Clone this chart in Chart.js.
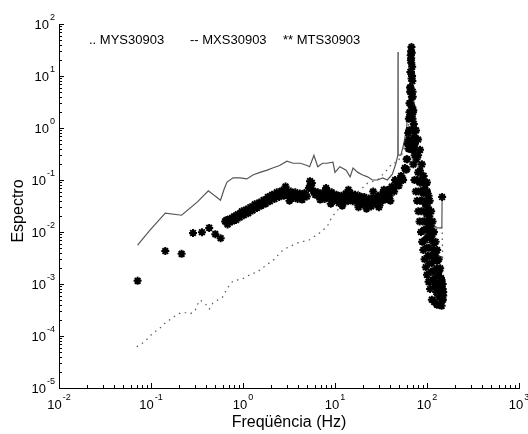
<!DOCTYPE html>
<html>
<head>
<meta charset="utf-8">
<script src="https://cdn.jsdelivr.net/npm/chart.js@4.4.1/dist/chart.umd.min.js"></script>
<style>
  body { margin: 0; background: #fff; }
  #wrap { width: 528px; height: 434px; }
</style>
</head>
<body>
<div id="wrap"><canvas id="chart" width="528" height="434"></canvas></div>
<script>
// tick labels (powers of ten)
const xTickExp = [-2, -1, 0, 1, 2, 3];
const yTickExp = [-5, -4, -3, -2, -1, 0, 1, 2];
const legendNames = ['.. MYS30903', '-- MXS30903', '** MTS30903'];

// MYS30903 (dotted)
const mysFreq = [0.07, 0.082, 0.093, 0.105, 0.122, 0.138, 0.157, 0.18, 0.21, 0.24, 0.27, 0.30, 0.32, 0.34, 0.385, 0.43, 0.47, 0.53, 0.6, 0.64, 0.7, 0.78, 0.88, 0.99, 1.1, 1.28, 1.45, 1.56, 1.73, 2.2, 2.6, 3.1, 3.96, 5.3, 6.8, 8.2, 9.2, 11.3, 15.7, 17.7, 20, 22.6, 29, 36.6, 42, 48, 55, 62, 66, 70, 80, 100, 120, 146, 147, 148];
const mysVals = [6.2e-5, 7.4e-5, 9e-5, 1.15e-4, 1.35e-4, 1.7e-4, 2e-4, 2.4e-4, 2.8e-4, 2.8e-4, 2.7e-4, 3e-4, 4e-4, 4.9e-4, 4.3e-4, 3.3e-4, 4.3e-4, 4.9e-4, 5.6e-4, 7e-4, 9e-4, 1.15e-3, 1.2e-3, 1.25e-3, 1.4e-3, 1.6e-3, 1.7e-3, 1.95e-3, 2.2e-3, 3e-3, 4.2e-3, 5.1e-3, 6.2e-3, 7.1e-3, 9.6e-3, 0.0126, 0.019, 0.03, 0.036, 0.059, 0.071, 0.087, 0.1, 0.155, 0.21, 0.22, 0.35, 0.8, 3, 1, 0.1, 0.02, 0.013, 0.012, 0.006, 0.0028];

// MXS30903 (solid)
const mxsFreq = [0.0715, 0.098, 0.143, 0.215, 0.32, 0.42, 0.57, 0.62, 0.67, 0.78, 0.93, 1.1, 1.28, 1.53, 1.83, 2.1, 2.5, 3.0, 3.5, 4.2, 4.97, 5.3, 5.9, 6.5, 7.3, 8.2, 9.5, 10, 11.3, 13.2, 14.6, 15.7, 17.7, 20, 22.6, 25.5, 29, 33, 37, 42, 46, 48.2, 48.4, 48.6, 52, 56, 60, 65, 68, 70, 75, 80, 88, 95, 99, 100, 101, 120, 145, 146];
const mxsVals = [0.0056, 0.011, 0.023, 0.021, 0.038, 0.062, 0.041, 0.065, 0.091, 0.11, 0.11, 0.105, 0.125, 0.14, 0.155, 0.17, 0.19, 0.23, 0.21, 0.21, 0.19, 0.18, 0.30, 0.18, 0.21, 0.21, 0.22, 0.14, 0.18, 0.155, 0.115, 0.17, 0.14, 0.125, 0.115, 0.10, 0.10, 0.11, 0.10, 0.13, 0.21, 0.3, 29, 0.3, 0.3, 0.5, 1, 5, 20, 8, 1, 0.2, 0.04, 0.015, 0.012, 0.09, 0.012, 0.012, 0.012, 0.047];

// MTS30903 (stars): isolated points
const mtsLowFreq = [0.0715, 0.143, 0.215, 0.286, 0.358, 0.429, 0.5, 0.572, 100, 100, 146];
const mtsLowVals = [0.00115, 0.0043, 0.0038, 0.0096, 0.0099, 0.012, 0.0091, 0.0076, 0.09, 0.06, 0.047];

// MTS30903: the dense band 0.6 - 60 Hz
const mtsBandFreq = [
  0.64, 0.68, 0.72, 0.76, 0.8, 0.84, 0.88, 0.92, 0.97, 1.02, 1.08, 1.14, 1.2, 1.27, 1.34, 1.42, 1.5, 1.58, 1.67, 1.76, 1.86, 1.96,
  2.07, 2.2, 2.33, 2.47, 2.62, 2.78, 2.95, 3.12, 3.3, 3.5, 3.7, 3.92, 4.15, 4.4, 4.66, 4.94, 5.2, 5.5, 5.8, 6.1, 6.5, 6.9,
  7.3, 7.7, 8.2, 8.7, 9.2, 9.8, 10.4, 11, 11.7, 12.4, 13.1, 13.9, 14.7, 15.6, 16.5, 17.5, 18.5, 19.6, 20.8, 22, 23.3, 24.7,
  26.2, 27.8, 29.4, 31.2, 33, 35, 37, 39.2, 41.5, 44, 46.6, 49.4, 52.3, 55, 57.5, 60,
  0.66, 0.74, 0.82, 0.9, 0.995, 1.11, 1.235, 1.38, 1.54, 1.715, 1.91, 2.135, 2.4, 2.7, 3.03, 3.4, 3.81, 4.27, 4.8, 5.35,
  5.95, 6.7, 7.5, 8.45, 9.5, 10.7, 12, 13.5, 15.1, 17, 19, 21.4, 24, 27, 30.3, 34, 38, 42.7, 48, 53.6, 58.7,
  2.9, 3.2, 5.35, 5.6, 8, 9, 12, 14, 18, 22, 26, 30, 34, 40, 45];
const mtsBandVals = [
  0.016, 0.014, 0.018, 0.016, 0.02, 0.017, 0.022, 0.019, 0.025, 0.021, 0.027, 0.023, 0.03, 0.026, 0.034, 0.029, 0.037, 0.032, 0.041, 0.035, 0.047, 0.039,
  0.052, 0.043, 0.058, 0.047, 0.062, 0.05, 0.065, 0.05, 0.06, 0.045, 0.058, 0.043, 0.055, 0.042, 0.056, 0.048, 0.07, 0.078, 0.062, 0.052, 0.058, 0.042,
  0.056, 0.043, 0.062, 0.045, 0.058, 0.04, 0.052, 0.036, 0.05, 0.038, 0.055, 0.04, 0.056, 0.039, 0.052, 0.036, 0.049, 0.034, 0.047, 0.032, 0.044, 0.031,
  0.046, 0.034, 0.05, 0.036, 0.055, 0.042, 0.064, 0.05, 0.075, 0.06, 0.092, 0.078, 0.12, 0.1, 0.17, 0.16,
  0.017, 0.017, 0.019, 0.021, 0.023, 0.025, 0.028, 0.031, 0.034, 0.038, 0.043, 0.048, 0.052, 0.056, 0.057, 0.052, 0.05, 0.048, 0.052, 0.074,
  0.058, 0.05, 0.049, 0.053, 0.049, 0.044, 0.043, 0.047, 0.047, 0.044, 0.041, 0.039, 0.037, 0.04, 0.043, 0.048, 0.057, 0.067, 0.085, 0.11, 0.16,
  0.075, 0.04, 0.095, 0.088, 0.07, 0.035, 0.032, 0.065, 0.03, 0.028, 0.06, 0.03, 0.065, 0.04, 0.1];

// MTS30903: resonance peak column
const mtsPeakFreq = [61, 62, 63, 63.5, 64, 64.5, 65, 65.5, 66, 66.2, 66.8, 67, 67.3, 67.8, 68.3, 68.8, 69, 69.3, 69.8, 70, 70.5, 71, 71.5, 72, 72.5, 73,
  60, 61.5, 62.5, 63.5, 64.5, 65.5, 66, 66.5, 67, 67.5, 68, 68.5, 69, 69.5, 70.5, 71.5, 72.5, 73.5, 65, 66, 67];
const mtsPeakVals = [0.25, 0.5, 0.4, 0.6, 0.9, 2, 1.6, 5, 3, 6, 20, 12, 22, 36, 28, 10, 15, 8, 5, 4, 2, 2.2, 1, 1.2, 0.5, 0.7,
  0.25, 0.5, 0.8, 1.5, 3, 6, 12, 25, 30, 18, 9, 4, 2.5, 1.5, 0.9, 0.6, 0.4, 0.3, 0.9, 0.5, 0.4];

// MTS30903: fall-off after the peak (several noisy strands)
const mtsTailFreq = [
  69, 71, 73, 75.5, 78, 80.5, 83, 86, 88.5, 91, 94, 97, 100, 104, 108, 113, 120, 128, 136, 144,
  74, 77, 80, 83, 86, 89, 92, 95, 98, 101, 105, 109, 113, 117, 122, 127, 132, 138, 144, 149,
  76, 80, 84, 88, 92, 96, 100, 104, 108, 112, 117, 122, 128, 134, 140, 146, 150,
  80, 84, 88, 92, 96, 100, 104, 107, 111, 115, 119, 124, 129, 134, 139, 144, 148, 150,
  78, 81, 84, 87, 90, 93, 96, 99, 102, 106, 110, 115, 120, 126, 132, 138, 146,
  90, 94, 98, 102, 106, 110, 114, 119, 124, 130, 136, 142, 148];
const mtsTailVals = [
  0.38, 0.2, 0.1, 0.06, 0.04, 0.025, 0.016, 0.01, 0.0065, 0.0045, 0.003, 0.0021, 0.0015, 0.0011, 0.0008, 0.0005, 0.00045, 0.0004, 0.0004, 0.00038,
  0.5, 0.25, 0.14, 0.09, 0.06, 0.04, 0.025, 0.016, 0.011, 0.008, 0.005, 0.0035, 0.0025, 0.0018, 0.0013, 0.001, 0.0008, 0.0007, 0.0006, 0.0005,
  0.9, 0.3, 0.15, 0.09, 0.055, 0.035, 0.022, 0.015, 0.01, 0.007, 0.0045, 0.003, 0.002, 0.0014, 0.001, 0.0008, 0.0007,
  0.6, 0.38, 0.2, 0.12, 0.08, 0.06, 0.05, 0.04, 0.025, 0.016, 0.01, 0.0065, 0.0045, 0.003, 0.002, 0.0012, 0.0008, 0.0006,
  0.1, 0.06, 0.04, 0.025, 0.016, 0.011, 0.007, 0.005, 0.0035, 0.0025, 0.0017, 0.0012, 0.0009, 0.0007, 0.0006, 0.00055, 0.0005,
  0.1, 0.065, 0.04, 0.03, 0.02, 0.013, 0.009, 0.006, 0.004, 0.0028, 0.0018, 0.0013, 0.001];

const toPoints = (xs, ys) => xs.map((x, i) => ({ x: x, y: ys[i] }));

function drawPow(ctx, x, y, exp, align) {
  const base = '10', sup = String(exp);
  ctx.font = '13px "Liberation Sans", Arial, sans-serif';
  const wb = ctx.measureText(base).width;
  ctx.font = '9px "Liberation Sans", Arial, sans-serif';
  const ws = ctx.measureText(sup).width;
  const total = wb + ws + 1;
  let left = align === 'right' ? x - total : x - total / 2;
  ctx.textAlign = 'left';
  ctx.textBaseline = 'middle';
  ctx.font = '13px "Liberation Sans", Arial, sans-serif';
  ctx.fillText(base, left, y);
  ctx.font = '9px "Liberation Sans", Arial, sans-serif';
  ctx.fillText(sup, left + wb + 1, y - 7);
}

const axisDecor = {
  id: 'axisDecor',
  afterDraw(chart) {
    const ctx = chart.ctx;
    const xs = chart.scales.x, ys = chart.scales.y, area = chart.chartArea;
    ctx.save();
    ctx.strokeStyle = '#000';
    ctx.lineWidth = 1;
    ctx.beginPath();
    for (let d = xTickExp[0]; d <= xTickExp[xTickExp.length - 1]; d++) {
      for (let k = 1; k <= 9; k++) {
        const v = k * Math.pow(10, d);
        if (v > xs.max * 1.0001) break;
        const px = Math.round(xs.getPixelForValue(v)) + 0.5;
        const len = k === 1 ? 5 : 3;
        ctx.moveTo(px, area.bottom);
        ctx.lineTo(px, area.bottom - len);
      }
    }
    for (let d = yTickExp[0]; d <= yTickExp[yTickExp.length - 1]; d++) {
      for (let k = 1; k <= 9; k++) {
        const v = k * Math.pow(10, d);
        if (v > ys.max * 1.0001) break;
        const py = Math.round(ys.getPixelForValue(v)) + 0.5;
        const len = k === 1 ? 5 : 3;
        ctx.moveTo(area.left, py);
        ctx.lineTo(area.left + len, py);
      }
    }
    ctx.stroke();

    ctx.fillStyle = '#000';
    xTickExp.forEach(e => drawPow(ctx, xs.getPixelForValue(Math.pow(10, e)), area.bottom + 17, e, 'center'));
    yTickExp.forEach(e => drawPow(ctx, area.left - 4, ys.getPixelForValue(Math.pow(10, e)) + 1, e, 'right'));

    ctx.font = '16px "Liberation Sans", Arial, sans-serif';
    ctx.textAlign = 'center';
    ctx.textBaseline = 'middle';
    ctx.fillText('Freqüência (Hz)', 289, 423);
    ctx.save();
    ctx.translate(19, 211);
    ctx.rotate(-Math.PI / 2);
    ctx.fillText('Espectro', 0, 0);
    ctx.restore();

    ctx.font = '13px "Liberation Sans", Arial, sans-serif';
    ctx.textAlign = 'left';
    ctx.fillText(legendNames[0], 89, 40);
    ctx.fillText(legendNames[1], 190, 40);
    ctx.fillText(legendNames[2], 283, 40);
    ctx.restore();
  }
};

const mtsPoints = [].concat(
  toPoints(mtsLowFreq, mtsLowVals),
  toPoints(mtsBandFreq, mtsBandVals),
  toPoints(mtsPeakFreq, mtsPeakVals),
  toPoints(mtsTailFreq, mtsTailVals)
);

new Chart(document.getElementById('chart'), {
  type: 'scatter',
  data: {
    datasets: [
      {
        label: 'MYS30903',
        data: toPoints(mysFreq, mysVals),
        showLine: true,
        borderColor: '#555',
        borderWidth: 1.2,
        borderDash: [1.5, 4.5],
        pointRadius: 0,
        order: 2
      },
      {
        label: 'MXS30903',
        data: toPoints(mxsFreq, mxsVals),
        showLine: true,
        borderColor: '#555',
        borderWidth: 1.2,
        pointRadius: 0,
        order: 1
      },
      {
        label: 'MTS30903',
        data: mtsPoints,
        showLine: false,
        pointStyle: 'star',
        pointRadius: 4,
        borderColor: '#000',
        backgroundColor: '#000',
        pointBorderWidth: 2,
        order: 0
      }
    ]
  },
  options: {
    responsive: false,
    animation: false,
    layout: { padding: { top: 24, right: 9, left: 0, bottom: 0 } },
    plugins: {
      legend: { display: false },
      tooltip: { enabled: false }
    },
    scales: {
      x: {
        type: 'logarithmic',
        min: 0.01,
        max: 1000,
        grid: { display: false },
        border: { display: true, color: '#000', width: 1 },
        ticks: { display: false },
        afterFit: function(scale) { scale.height = 46; }
      },
      y: {
        type: 'logarithmic',
        min: 1e-5,
        max: 100,
        grid: { display: false },
        border: { display: true, color: '#000', width: 1 },
        ticks: { display: false },
        afterFit: function(scale) { scale.width = 59; }
      }
    }
  },
  plugins: [axisDecor]
});
</script>
</body>
</html>
